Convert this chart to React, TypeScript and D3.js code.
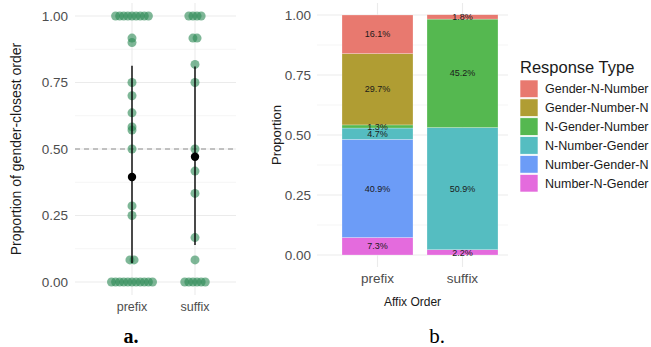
import React from "react";
import * as d3 from "d3";

// ---------- Data ----------
const affixOrders = ["prefix", "suffix"];

// panel a: per-participant proportions of gender-closest order
const prefixProportions = [
  1, 1, 1, 1, 1, 1, 1, 1, 1,
  0.917, 0.9, 0.75, 0.7, 0.636, 0.583, 0.571, 0.5, 0.286, 0.25,
  0.083, 0.083,
  0, 0, 0, 0, 0, 0, 0, 0, 0, 0, 0,
];
const suffixProportions = [
  1, 1, 1, 1,
  0.917, 0.917, 0.818, 0.75, 0.5, 0.417, 0.333, 0.167, 0.083,
  0, 0, 0, 0, 0, 0,
];
const summaryMeans = [0.395, 0.471];
const summaryLow = [0.071, 0.139];
const summaryHigh = [0.813, 0.81];

// panel b: response type proportions (%)
const responseTypes = [
  "Gender-N-Number",
  "Gender-Number-N",
  "N-Gender-Number",
  "N-Number-Gender",
  "Number-Gender-N",
  "Number-N-Gender",
];
const prefixPercents = [16.1, 29.7, 1.3, 4.7, 40.9, 7.3];
const suffixPercents = [1.8, 0, 45.2, 50.9, 0, 2.2];
const responseColors = ["#E8796F", "#B09D33", "#55B850", "#55BDC1", "#6C9CF7", "#E46BDD"];
const yTicks = [0, 0.25, 0.5, 0.75, 1];
const yMinor = [0.125, 0.375, 0.625, 0.875];

const SANS = "Liberation Sans, Arial, Helvetica, sans-serif";
const SERIF = "Liberation Serif, Times New Roman, serif";

export default function App() {
  // ----- panel a -----
  const ax = d3.scalePoint<string>().domain(affixOrders).range([132, 195]);
  const ay = d3.scaleLinear().domain([0, 1]).range([282, 16]);
  const aLeft = 75, aRight = 236, aTop = 3, aBottom = 295;
  const dotSpacing = 4.1;

  const dots: { x: number; y: number; key: string }[] = [];
  [prefixProportions, suffixProportions].forEach((vals, gi) => {
    const groups = d3.group(vals, (v) => v);
    groups.forEach((arr, v) => {
      arr.forEach((_, i) => {
        dots.push({
          x: (ax(affixOrders[gi]) as number) + (i - (arr.length - 1) / 2) * dotSpacing,
          y: ay(v),
          key: `${gi}-${v}-${i}`,
        });
      });
    });
  });

  // ----- panel b -----
  const bx = d3.scalePoint<string>().domain(affixOrders).range([377.5, 462.5]);
  const by = d3.scaleLinear().domain([0, 1]).range([255, 15]);
  const barW = 71;
  const bLeft = 317, bRight = 508, bTop = 3, bBottom = 267;
  const table = affixOrders.map((a, i) => {
    const row: any = { affix: a };
    const src = i === 0 ? prefixPercents : suffixPercents;
    responseTypes.forEach((t, j) => (row[t] = src[j] / 100));
    return row;
  });
  const stackKeys = [...responseTypes].reverse();
  const series = d3.stack<any>().keys(stackKeys)(table);
  const color = d3.scaleOrdinal<string, string>().domain(responseTypes).range(responseColors);

  return (
    <div style={{ position: "absolute", left: 0, top: 0 }}>
      <svg width={651} height={347} style={{ display: "block", background: "#fff" }}>
        {/* ===== Panel a ===== */}
        <g>
          {yMinor.map((t) => (
            <line key={"am" + t} x1={aLeft} x2={aRight} y1={ay(t)} y2={ay(t)} stroke="#f3f3f3" strokeWidth={0.8} />
          ))}
          {yTicks.map((t) => (
            <line key={"ag" + t} x1={aLeft} x2={aRight} y1={ay(t)} y2={ay(t)} stroke="#ebebeb" strokeWidth={1.1} />
          ))}
          {affixOrders.map((a) => (
            <line key={"av" + a} x1={ax(a)} x2={ax(a)} y1={aTop} y2={aBottom} stroke="#ebebeb" strokeWidth={1.1} />
          ))}
          <line x1={aLeft} x2={aRight} y1={ay(0.5)} y2={ay(0.5)} stroke="#8c8c8c" strokeWidth={1} strokeDasharray="5,4" />
          {dots.map((d) => (
            <circle key={d.key} cx={d.x} cy={d.y} r={4.5} fill="#2e8b57" fillOpacity={0.62} />
          ))}
          {affixOrders.map((a, i) => (
            <g key={"sum" + a}>
              <line x1={ax(a)} x2={ax(a)} y1={ay(summaryHigh[i])} y2={ay(summaryLow[i])} stroke="#000" strokeWidth={1.4} />
              <circle cx={ax(a)} cy={ay(summaryMeans[i])} r={4.2} fill="#000" />
            </g>
          ))}
          {yTicks.map((t) => (
            <text key={"at" + t} x={68} y={ay(t)} dy="0.35em" textAnchor="end" fontFamily={SANS} fontSize={13.5} fill="#4d4d4d">
              {t.toFixed(2)}
            </text>
          ))}
          {affixOrders.map((a) => (
            <text key={"axl" + a} x={ax(a)} y={311} textAnchor="middle" fontFamily={SANS} fontSize={12.5} fill="#4d4d4d">
              {a}
            </text>
          ))}
          <text transform={`translate(21,${ay(0.5)}) rotate(-90)`} textAnchor="middle" fontFamily={SANS} fontSize={14} fill="#1a1a1a">
            Proportion of gender-closest order
          </text>
          <text x={131} y={343} textAnchor="middle" fontFamily={SERIF} fontSize={20} fontWeight="bold" fill="#000">
            a.
          </text>
        </g>

        {/* ===== Panel b ===== */}
        <g>
          {yMinor.map((t) => (
            <line key={"bm" + t} x1={bLeft} x2={bRight} y1={by(t)} y2={by(t)} stroke="#f3f3f3" strokeWidth={0.8} />
          ))}
          {yTicks.map((t) => (
            <line key={"bg" + t} x1={bLeft} x2={bRight} y1={by(t)} y2={by(t)} stroke="#ebebeb" strokeWidth={1.1} />
          ))}
          {affixOrders.map((a) => (
            <line key={"bv" + a} x1={bx(a)} x2={bx(a)} y1={bTop} y2={bBottom} stroke="#ebebeb" strokeWidth={1.1} />
          ))}
          {series.map((s) =>
            s.map((seg, i) => {
              const h = by(seg[0]) - by(seg[1]);
              if (h <= 0) return null;
              return (
                <rect
                  key={s.key + i}
                  x={(bx(affixOrders[i]) as number) - barW / 2}
                  y={by(seg[1])}
                  width={barW}
                  height={h}
                  fill={color(s.key as string)}
                  stroke="#ffffff"
                  strokeOpacity={0.5}
                  strokeWidth={0.5}
                />
              );
            })
          )}
          {series.map((s) =>
            s.map((seg, i) => {
              const v = seg[1] - seg[0];
              if (v <= 0) return null;
              return (
                <text
                  key={"l" + s.key + i}
                  x={bx(affixOrders[i])}
                  y={by((seg[0] + seg[1]) / 2)}
                  dy="0.35em"
                  textAnchor="middle"
                  fontFamily={SANS}
                  fontSize={9}
                  fill="#1a1a1a"
                >
                  {(v * 100).toFixed(1)}%
                </text>
              );
            })
          )}
          {yTicks.map((t) => (
            <text key={"bt" + t} x={311} y={by(t)} dy="0.35em" textAnchor="end" fontFamily={SANS} fontSize={13.5} fill="#4d4d4d">
              {t.toFixed(2)}
            </text>
          ))}
          {affixOrders.map((a) => (
            <text key={"bxl" + a} x={bx(a)} y={283} textAnchor="middle" fontFamily={SANS} fontSize={13.5} fill="#4d4d4d">
              {a}
            </text>
          ))}
          <text x={(bLeft + bRight) / 2} y={306} textAnchor="middle" fontFamily={SANS} fontSize={12} fill="#1a1a1a">
            Affix Order
          </text>
          <text transform={`translate(281,${by(0.5)}) rotate(-90)`} textAnchor="middle" fontFamily={SANS} fontSize={13} fill="#1a1a1a">
            Proportion
          </text>
          <text x={437} y={343} textAnchor="middle" fontFamily={SERIF} fontSize={21} fill="#000">
            b.
          </text>

          {/* legend */}
          <text x={520} y={73} fontFamily={SANS} fontSize={16.5} fill="#1a1a1a">
            Response Type
          </text>
          {responseTypes.map((t, i) => (
            <g key={"lg" + t} transform={`translate(520,${80 + i * 18.9})`}>
              <rect x={0} y={0} width={18} height={17.5} fill={color(t)} stroke="#fff" strokeWidth={0.6} />
              <text x={25} y={8.8} dy="0.35em" fontFamily={SANS} fontSize={12.5} fill="#1a1a1a">
                {t}
              </text>
            </g>
          ))}
        </g>
      </svg>
    </div>
  );
}
